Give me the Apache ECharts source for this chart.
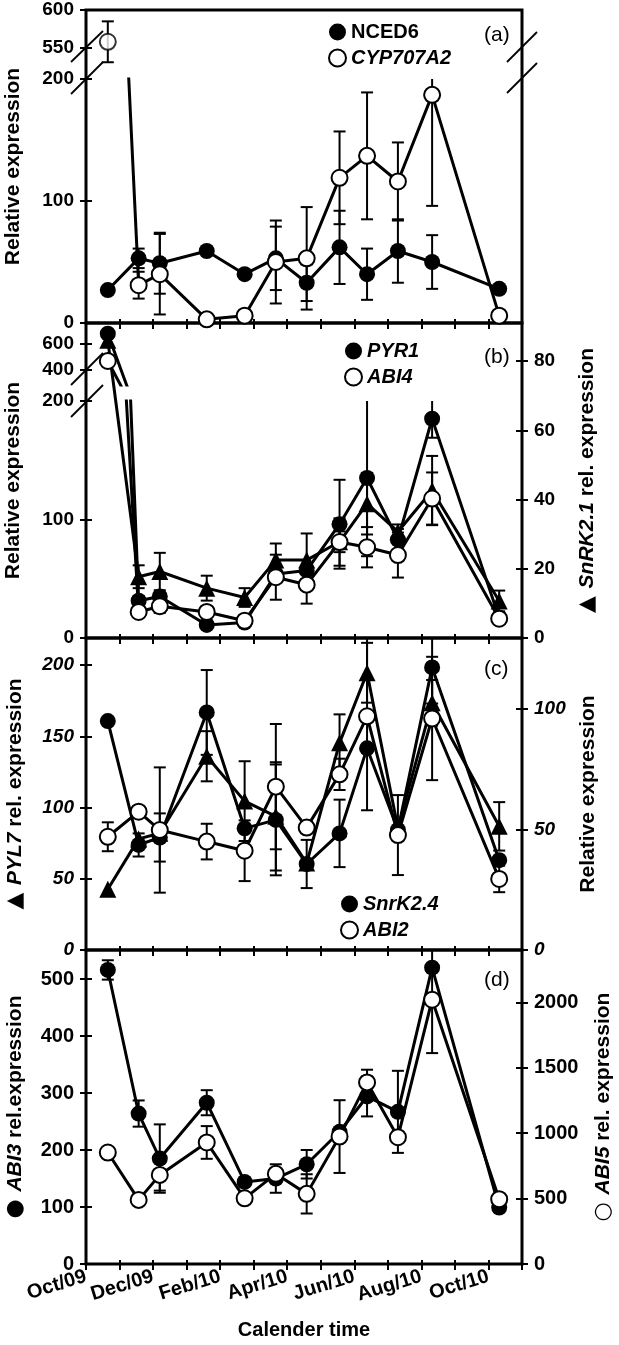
<!DOCTYPE html>
<html><head><meta charset="utf-8">
<script src="https://cdn.jsdelivr.net/npm/echarts@6/dist/echarts.min.js"></script>
<style>html,body{margin:0;padding:0;background:#fff}#chart{width:619px;height:1345px}</style>
</head><body><div id="chart"></div>
<script>
// ---- data ----
// sampling times, in months since 1 Oct 2009
const months = [0.65, 1.57, 2.2, 3.6, 4.73, 5.66, 6.58, 7.56, 8.38, 9.3, 10.32, 12.32];
const tickMonths = [0, 2, 4, 6, 8, 10, 12];
const tickLabels = ['Oct/09', 'Dec/09', 'Feb/10', 'Apr/10', 'Jun/10', 'Aug/10', 'Oct/10'];

// (a)
const nced6 = [27, 53, 49, 59, 40, 53, 33, 62, 40, 59, 50, 28];
const nced6Err = [0, 8, 25, 0, 0, 26, 15, 30, 21, 26, 22, 0];
const cyp707a2 = [558, 31, 40, 3, 6, 50, 53, 119, 137, 116, 187, 6];
const cyp707a2Err = [27, 11, 33, 0, 0, 34, 42, 38, 52, 32, 91, 0];
// (b)
const pyr1 = [680, 31.5, 35, 11, 13, 54, 57, 96, 135, 83, 185, 17];
const pyr1Err = [0, 4, 0, 0, 0, 0, 0, 37.5, 66, 9, 16, 0];
const abi4 = [470, 22, 26.8, 22, 14.6, 51.3, 45, 81, 76.6, 70, 117.7, 16.3];
const abi4Err = [0, 0, 5.6, 0, 0, 19, 16, 20, 17, 19, 22, 0];
const snrk21 = [86, 17.7, 19.2, 14.4, 11.7, 22.5, 22.5, 27.8, 38.8, 30.7, 42.6, 10.7];
const snrk21Err = [0, 3.3, 5.4, 3.6, 2.7, 4.8, 7.7, 3, 8.9, 2.1, 10, 3];
// (c)
const snrk24 = [95, 43.6, 46.7, 98.6, 50.5, 54, 35.7, 48.4, 83.7, 49.8, 117.3, 37.3];
const snrk24Err = [0, 4.8, 10, 17.6, 0, 23, 10, 14, 0, 0, 15, 0];
const abi2 = [47, 57.4, 49.8, 45, 41.2, 67.8, 50.8, 72.9, 97, 47.7, 96.1, 29.5];
const abi2Err = [6, 0, 26, 7.4, 12.6, 26, 0, 6.5, 39, 16.6, 25.6, 5.5];
const pyl7 = [42.7, 78, 82, 136, 104.5, 93.8, 61, 145.4, 194.6, 85.6, 173.5, 86.8];
const pyl7Err = [0, 0, 0, 17.6, 28, 38, 0, 20, 21, 0, 16, 17];
// (d)
const abi3 = [516, 264, 185, 283, 144, 150, 175, 232, 294, 267, 520, 99];
const abi3Err = [17, 23, 60, 22, 0, 25, 25, 0, 35, 72, 0, 0];
const abi5 = [852, 490, 681, 929, 502, 689, 536, 974, 1388, 969, 2020, 495];
const abi5Err = [0, 0, 120, 125, 0, 0, 150, 278, 97, 0, 408, 0];

// ---- helpers ----
const F = '"Liberation Sans", Arial, Helvetica, sans-serif';
const K = '#000';
const pts = vals => months.map((m, i) => [m, vals[i]]);
const errPts = (vals, errs) => months.map((m, i) => [m, vals[i], errs[i]]).filter(d => d[2] > 0);

function gridDef(top, height, frame) {
  const g = { left: 86, right: 97, top: top, height: height, outerBoundsMode: 'none', containLabel: false };
  if (frame) { g.show = true; g.borderColor = K; g.borderWidth = 3; g.backgroundColor = 'transparent'; }
  return g;
}
const grid = [
  gridDef(10, 53),        // 0 a upper
  gridDef(79, 244),       // 1 a lower
  gridDef(10, 313, true), // 2 a frame
  gridDef(323, 62),       // 3 b upper
  gridDef(401, 237),      // 4 b lower
  gridDef(323, 315, true),// 5 b frame
  gridDef(638, 312, true),// 6 c
  gridDef(950, 314, true) // 7 d
];

const none = { show: false };
function xAx(g, mode, extra) {
  const a = { type: 'value', gridIndex: g, min: 0, max: 13, interval: 1, position: 'bottom',
    axisLine: none, splitLine: none, axisLabel: none, axisTick: none };
  if (mode === 'out') a.axisTick = { show: true, inside: false, length: 6, lineStyle: { color: K, width: 2 } };
  if (mode === 'in') a.axisTick = { show: true, inside: true, length: 4, lineStyle: { color: K, width: 2 } };
  return Object.assign(a, extra || {});
}
const tickFont = { color: K, fontFamily: F, fontSize: 19, fontWeight: 'bold' };
function yAx(g, pos, min, max, ticks, mode, extra) {
  const a = { type: 'value', gridIndex: g, position: pos, min: min, max: max, offset: 0,
    axisLine: none, splitLine: none, axisLabel: none, axisTick: none };
  if (mode === 'out') {
    a.axisTick = { show: true, inside: false, length: 6, customValues: ticks, lineStyle: { color: K, width: 2 } };
    a.axisLabel = Object.assign({ show: true, margin: 12, customValues: ticks, hideOverlap: false,
      formatter: v => String(v) }, tickFont);
  }
  if (mode === 'in') a.axisTick = { show: true, inside: true, length: 6, customValues: ticks, lineStyle: { color: K, width: 2 } };
  return Object.assign(a, extra || {});
}
const nameFont = { color: K, fontFamily: F, fontSize: 21, fontWeight: 'bold' };
const rich = {
  i: { fontStyle: 'italic', fontWeight: 'bold', fontSize: 21, fontFamily: F, color: K },
  n: { fontWeight: 'bold', fontSize: 21, fontFamily: F, color: K },
  s: { fontSize: 22, fontFamily: 'DejaVu Sans', color: K }
};
function yName(text, gap) {
  return { name: text, nameLocation: 'middle', nameRotate: 90, nameGap: gap,
    nameTextStyle: Object.assign({ rich: rich }, nameFont) };
}
// month tick labels split over two stacked axes so neighbouring rotated labels never collide
function monthLabels(parity) {
  const vals = tickMonths.filter((m, i) => i % 2 === parity);
  return Object.assign({ show: true, customValues: vals, rotate: 17, margin: 12,
    hideOverlap: false, showMinLabel: true, showMaxLabel: true,
    formatter: v => tickLabels[tickMonths.indexOf(v)] }, tickFont, { fontSize: 20 });
}

const xAxis = [
  xAx(0, 'none'),            // 0 a up
  xAx(1, 'out'),             // 1 a low
  xAx(1, 'in'),              // 2
  xAx(2, 'none'),            // 3 a frame
  xAx(3, 'none'),            // 4 b up
  xAx(4, 'out'),             // 5 b low
  xAx(4, 'in'),              // 6
  xAx(5, 'none'),            // 7 b frame
  xAx(6, 'out'),             // 8 c
  xAx(6, 'in'),              // 9
  xAx(7, 'out', {            // 10 d
    axisLabel: monthLabels(0),
    name: 'Calender time', nameLocation: 'middle', nameGap: 56,
    nameTextStyle: Object.assign({}, nameFont, { fontSize: 20 })
  }),
  xAx(7, 'in', { axisLabel: monthLabels(1) }) // 11
];

const yAxis = [
  yAx(0, 'left', 530, 600, [550, 600], 'out'),   // 0
  yAx(0, 'left', 530, 600, [550, 600], 'in'),    // 1
  yAx(1, 'left', 0, 200, [0, 100, 200], 'out'),  // 2
  yAx(1, 'left', 0, 200, [0, 100, 200], 'in'),   // 3
  yAx(2, 'left', 0, 1, [], 'none', yName('Relative expression', 62)), // 4
  yAx(3, 'left', 285, 762, [400, 600], 'out'),   // 5
  yAx(3, 'left', 285, 762, [400, 600], 'in'),    // 6
  yAx(4, 'left', 0, 200, [0, 100, 200], 'out'),  // 7
  yAx(4, 'left', 0, 200, [0, 100, 200], 'in'),   // 8
  yAx(5, 'left', 0, 1, [], 'none', yName('Relative expression', 62)), // 9
  yAx(5, 'right', 0, 91, [0, 20, 40, 60, 80], 'out', yName('{s|▲ }{i|SnRK2.1}{n| rel. expression}', 54)), // 10
  yAx(5, 'right', 0, 91, [0, 20, 40, 60, 80], 'in'), // 11
  yAx(6, 'left', 0, 219, [0, 50, 100, 150, 200], 'out', yName('{s|▲ }{i|PYL7}{n| rel. expression}', 60)), // 12
  yAx(6, 'left', 0, 219, [0, 50, 100, 150, 200], 'in'), // 13
  yAx(6, 'right', 0, 129.5, [0, 50, 100], 'out', yName('Relative expression', 56)), // 14
  yAx(6, 'right', 0, 129.5, [0, 50, 100], 'in'), // 15
  yAx(7, 'left', 0, 551, [0, 100, 200, 300, 400, 500], 'out', yName('{s|● }{i|ABI3}{n| rel.expression}', 60)), // 16
  yAx(7, 'left', 0, 551, [0, 100, 200, 300, 400, 500], 'in'), // 17
  yAx(7, 'right', 0, 2400, [0, 500, 1000, 1500, 2000], 'out', yName('{s|○ }{i|ABI5}{n| rel. expression}', 70)), // 18
  yAx(7, 'right', 0, 2400, [0, 500, 1000, 1500, 2000], 'in')  // 19
];
// italic tick labels for panel (c), larger labels for panel (d)
[12, 14].forEach(i => { yAxis[i].axisLabel = Object.assign({}, yAxis[i].axisLabel, { fontStyle: 'italic' }); });
[16, 18].forEach(i => { yAxis[i].axisLabel = Object.assign({}, yAxis[i].axisLabel, { fontSize: 20 }); });

const FILLED = { color: K };
const OPEN = { color: '#fff', borderColor: K, borderWidth: 2 };
function line(name, vals, xi, yi, symbol, style, z) {
  return { type: 'line', name: name, data: pts(vals), xAxisIndex: xi, yAxisIndex: yi,
    symbol: symbol, symbolSize: symbol === 'triangle' ? 17 : 16, showAllSymbol: true,
    lineStyle: { color: K, width: 3 }, itemStyle: style, clip: true, z: z || 2,
    emphasis: { disabled: true }, silent: true };
}
function errBars(vals, errs, xi, yi) {
  return { type: 'custom', data: errPts(vals, errs), xAxisIndex: xi, yAxisIndex: yi, z: 1, silent: true,
    encode: { x: 0, y: 1 },
    renderItem: function (params, api) {
      const x = api.value(0), y = api.value(1), e = api.value(2);
      const cs = params.coordSys;
      const t = api.coord([x, y + e]), b = api.coord([x, y - e]);
      const lo = cs.y, hi = cs.y + cs.height;
      const cl = v => Math.max(lo, Math.min(hi, v));
      const cx = t[0], w = 6;
      const st = { stroke: K, lineWidth: 2 };
      const ch = [{ type: 'line', shape: { x1: cx, y1: cl(t[1]), x2: cx, y2: cl(b[1]) }, style: st }];
      if (t[1] >= lo && t[1] <= hi) ch.push({ type: 'line', shape: { x1: cx - w, y1: t[1], x2: cx + w, y2: t[1] }, style: st });
      if (b[1] >= lo && b[1] <= hi) ch.push({ type: 'line', shape: { x1: cx - w, y1: b[1], x2: cx + w, y2: b[1] }, style: st });
      return { type: 'group', children: ch };
    } };
}

const series = [
  // (a)
  errBars(nced6, nced6Err, 1, 2),
  errBars(cyp707a2, cyp707a2Err, 1, 2),
  errBars(cyp707a2, cyp707a2Err, 0, 0),
  line('NCED6', nced6, 1, 2, 'circle', FILLED, 2),
  line('CYP707A2', cyp707a2, 1, 2, 'circle', OPEN, 3),
  { type: 'scatter', name: 'CYP707A2 (upper)', data: pts(cyp707a2), xAxisIndex: 0, yAxisIndex: 0,
    symbol: 'circle', symbolSize: 16, itemStyle: OPEN, clip: true, z: 3, silent: true },
  // (b)
  errBars(snrk21, snrk21Err, 7, 10),
  errBars(pyr1, pyr1Err, 5, 7),
  errBars(abi4, abi4Err, 5, 7),
  line('SnRK2.1', snrk21, 7, 10, 'triangle', FILLED, 2),
  line('PYR1 (upper)', pyr1, 4, 5, 'circle', FILLED, 3),
  line('ABI4 (upper)', abi4, 4, 5, 'circle', OPEN, 4),
  line('PYR1', pyr1, 5, 7, 'circle', FILLED, 3),
  line('ABI4', abi4, 5, 7, 'circle', OPEN, 4),
  // (c)
  errBars(pyl7, pyl7Err, 8, 12),
  errBars(snrk24, snrk24Err, 8, 14),
  errBars(abi2, abi2Err, 8, 14),
  line('PYL7', pyl7, 8, 12, 'triangle', FILLED, 2),
  line('SnrK2.4', snrk24, 8, 14, 'circle', FILLED, 3),
  line('ABI2', abi2, 8, 14, 'circle', OPEN, 4),
  // (d)
  errBars(abi3, abi3Err, 10, 16),
  errBars(abi5, abi5Err, 10, 18),
  line('ABI3', abi3, 10, 16, 'circle', FILLED, 3),
  line('ABI5', abi5, 10, 18, 'circle', OPEN, 4)
];

const legText = { color: K, fontFamily: F, fontSize: 20, fontWeight: 'bold' };
function legend(left, top, items) {
  return { left: left, top: top, orient: 'vertical', itemGap: 6, itemWidth: 17, itemHeight: 17,
    selectedMode: false, textStyle: legText, data: items };
}
const LF = { icon: 'circle', itemStyle: { color: K, borderWidth: 0 } };
const LO = { icon: 'circle', itemStyle: { color: '#fff', borderColor: K, borderWidth: 2 } };
const IT = { textStyle: { fontStyle: 'italic' } };

const panelTag = (text, top) => ({ text: text, left: 479, top: top,
  textStyle: { color: K, fontFamily: F, fontSize: 21, fontWeight: 'normal' } });

// decorative axis-break marks
const brk = (x1, y1, x2, y2) => ({ type: 'line', shape: { x1: x1, y1: y1, x2: x2, y2: y2 },
  style: { stroke: K, lineWidth: 1.8 }, z: 100 });

const option = {
  animation: false,
  textStyle: { fontFamily: F },
  grid: grid,
  xAxis: xAxis,
  yAxis: yAxis,
  series: series,
  legend: [
    legend(323, 17, [Object.assign({ name: 'NCED6' }, LF), Object.assign({ name: 'CYP707A2' }, LO, IT)]),
    legend(339, 336, [Object.assign({ name: 'PYR1' }, LF, IT), Object.assign({ name: 'ABI4' }, LO, IT)]),
    legend(335, 889, [Object.assign({ name: 'SnrK2.4' }, LF, IT), Object.assign({ name: 'ABI2' }, LO, IT)])
  ],
  title: [panelTag('(a)', 20), panelTag('(b)', 342), panelTag('(c)', 654), panelTag('(d)', 965)],
  graphic: [
    brk(71, 62, 103, 31), brk(71, 94, 103, 62),
    brk(507, 62, 537, 32), brk(507, 93, 537, 63),
    brk(71, 385, 103, 353), brk(71, 417, 103, 385)
  ]
};

const chart = echarts.init(document.getElementById('chart'), null, { renderer: 'canvas' });
chart.setOption(option);
</script></body></html>
